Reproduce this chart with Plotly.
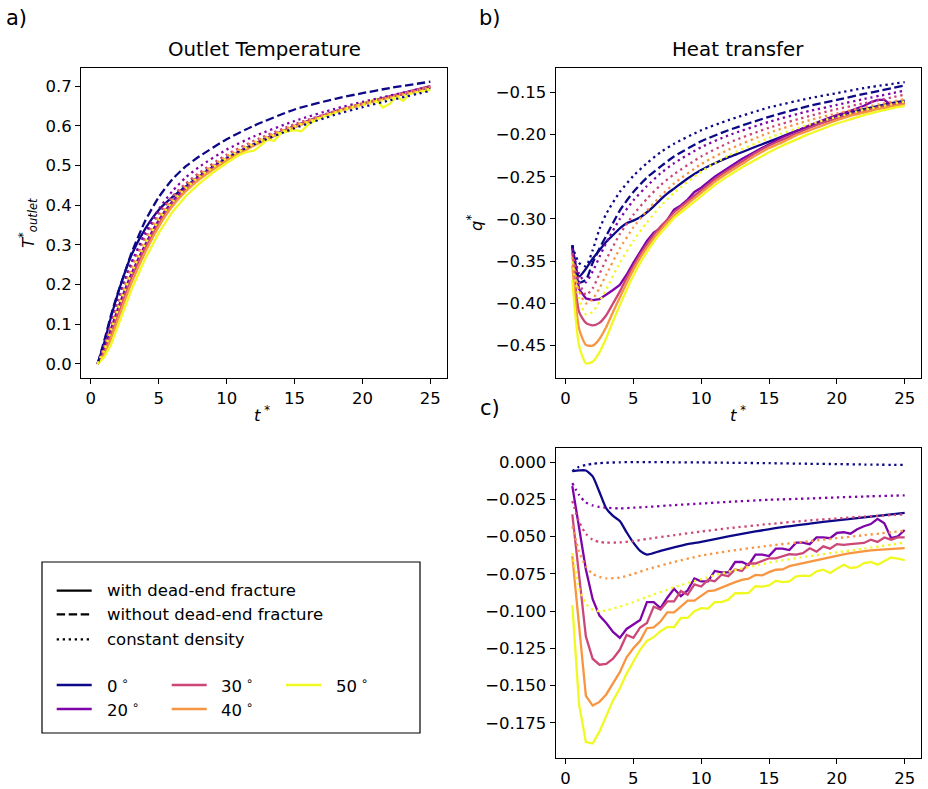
import plotly.graph_objects as go

W, H = 928, 789
FONT = "DejaVu Sans"
COL = {0: "#0d0887", 20: "#7e03a8", 30: "#cc4778", 40: "#f89540", 50: "#f0f921"}
LW = 2.3
DASH = "8.4px,3.6px"
DOT = "2.3px,3.7px"

# ---------------- panel a: outlet temperature ----------------
ta = [0.5, 1, 1.5, 2, 2.5, 3, 4, 5, 6, 7, 8, 10, 12, 15, 18, 20, 22, 25]
a_dash0 = [0.0, 0.06, 0.125, 0.18, 0.23, 0.28, 0.36, 0.42, 0.465, 0.498, 0.523, 0.566, 0.6, 0.641, 0.668, 0.682, 0.695, 0.711]
a_s0 = [0.0, 0.055, 0.12, 0.178, 0.23, 0.275, 0.34, 0.388, 0.42, 0.447, 0.472, 0.515, 0.553, 0.598, 0.635, 0.655, 0.672, 0.695]
a_s20 = [0.0, 0.04, 0.09, 0.14, 0.186, 0.228, 0.3, 0.362, 0.409, 0.444, 0.473, 0.518, 0.554, 0.599, 0.636, 0.656, 0.674, 0.7]
a_s30 = [0.0, 0.032, 0.077, 0.127, 0.174, 0.218, 0.292, 0.354, 0.403, 0.44, 0.469, 0.515, 0.552, 0.598, 0.635, 0.655, 0.673, 0.699]
a_s40 = [0.0, 0.025, 0.065, 0.113, 0.16, 0.205, 0.281, 0.346, 0.397, 0.435, 0.465, 0.512, 0.55, 0.596, 0.634, 0.654, 0.672, 0.698]
a_d0 = [0.0, 0.05, 0.105, 0.16, 0.21, 0.255, 0.325, 0.38, 0.42, 0.452, 0.478, 0.52, 0.553, 0.594, 0.628, 0.647, 0.664, 0.688]
a_d20 = [0.0, 0.05, 0.105, 0.16, 0.21, 0.255, 0.33, 0.39, 0.435, 0.47, 0.497, 0.54, 0.573, 0.612, 0.643, 0.66, 0.676, 0.698]
a_d30 = [0.0, 0.045, 0.1, 0.152, 0.2, 0.245, 0.318, 0.378, 0.422, 0.455, 0.482, 0.527, 0.562, 0.604, 0.637, 0.656, 0.672, 0.697]
a_d40 = [0.0, 0.04, 0.092, 0.145, 0.193, 0.238, 0.31, 0.37, 0.415, 0.449, 0.477, 0.523, 0.559, 0.601, 0.635, 0.654, 0.671, 0.696]
a_d50 = [0.0, 0.035, 0.085, 0.137, 0.185, 0.23, 0.302, 0.362, 0.408, 0.443, 0.472, 0.518, 0.555, 0.598, 0.632, 0.651, 0.668, 0.693]
ta_s50 = [0.5, 1, 1.5, 2, 2.5, 3, 4, 5, 6, 7, 8, 9, 10, 11, 11.5, 12, 12.5, 13, 13.5, 14, 15, 15.5, 16, 17, 18, 19, 20, 21, 21.5, 22, 22.5, 23, 23.5, 24, 25]
a_s50 = [0.0, 0.018, 0.05, 0.095, 0.142, 0.188, 0.265, 0.33, 0.383, 0.423, 0.455, 0.482, 0.506, 0.528, 0.534, 0.537, 0.55, 0.565, 0.562, 0.582, 0.589, 0.586, 0.603, 0.622, 0.634, 0.647, 0.657, 0.666, 0.646, 0.655, 0.673, 0.663, 0.681, 0.685, 0.69]

# ---------------- panel b: heat transfer ----------------
tb = [0.5, 1, 1.5, 2, 2.5, 3, 4, 5, 6, 7, 8, 10, 12, 15, 18, 20, 22, 25]
b_dash0 = [-0.331, -0.375, -0.372, -0.352, -0.335, -0.32, -0.29, -0.268, -0.251, -0.238, -0.226, -0.208, -0.195, -0.179, -0.166, -0.159, -0.152, -0.142]
b_d0 = [-0.332, -0.352, -0.356, -0.337, -0.312, -0.294, -0.268, -0.249, -0.234, -0.221, -0.211, -0.195, -0.183, -0.168, -0.157, -0.151, -0.145, -0.138]
b_d20 = [-0.335, -0.365, -0.375, -0.362, -0.345, -0.328, -0.3, -0.278, -0.261, -0.246, -0.234, -0.215, -0.201, -0.185, -0.172, -0.165, -0.158, -0.148]
b_d30 = [-0.34, -0.375, -0.39, -0.382, -0.365, -0.348, -0.318, -0.295, -0.276, -0.26, -0.247, -0.226, -0.21, -0.192, -0.178, -0.17, -0.163, -0.153]
b_d40 = [-0.345, -0.385, -0.4, -0.395, -0.382, -0.366, -0.335, -0.31, -0.29, -0.273, -0.258, -0.235, -0.218, -0.198, -0.183, -0.175, -0.168, -0.158]
b_d50 = [-0.35, -0.395, -0.413, -0.41, -0.398, -0.383, -0.352, -0.326, -0.304, -0.285, -0.269, -0.244, -0.225, -0.204, -0.188, -0.179, -0.171, -0.161]
tbs = [0.5, 1, 1.5, 2, 2.5, 3, 3.5, 4, 4.5, 5, 5.5, 6, 6.5, 7, 7.5, 8, 9, 10, 11, 12, 13, 14, 15, 16, 17, 18, 19, 20, 21, 22, 23, 24, 25]
b_s0 = [-0.331, -0.368, -0.359, -0.347, -0.337, -0.327, -0.319, -0.311, -0.305, -0.302, -0.298, -0.292, -0.285, -0.277, -0.27, -0.264, -0.252, -0.242, -0.234, -0.227, -0.221, -0.2145, -0.2085, -0.202, -0.196, -0.19, -0.1835, -0.178, -0.174, -0.17, -0.1665, -0.163, -0.16]
b_s30 = [-0.338, -0.41, -0.423, -0.426, -0.423, -0.414, -0.4, -0.386, -0.37, -0.356, -0.342, -0.33, -0.319, -0.309, -0.301, -0.292, -0.279, -0.266, -0.253, -0.242, -0.232, -0.222, -0.213, -0.206, -0.199, -0.192, -0.186, -0.181, -0.176, -0.172, -0.168, -0.165, -0.163]
b_s40 = [-0.355, -0.43, -0.449, -0.45, -0.442, -0.428, -0.41, -0.393, -0.376, -0.36, -0.346, -0.334, -0.323, -0.313, -0.304, -0.296, -0.282, -0.269, -0.256, -0.245, -0.235, -0.225, -0.216, -0.209, -0.201, -0.195, -0.189, -0.183, -0.178, -0.174, -0.17, -0.167, -0.164]
b_s50 = [-0.372, -0.45, -0.471, -0.469, -0.458, -0.441, -0.421, -0.402, -0.384, -0.367, -0.352, -0.339, -0.327, -0.317, -0.308, -0.299, -0.286, -0.273, -0.26, -0.249, -0.239, -0.23, -0.221, -0.213, -0.206, -0.199, -0.193, -0.187, -0.182, -0.177, -0.173, -0.169, -0.166]
tb_s20 = [0.5, 1, 1.5, 2, 2.5, 3, 3.5, 4, 4.5, 5, 5.5, 6, 6.5, 7, 7.5, 8, 8.5, 9, 9.5, 10, 11, 12, 13, 14, 15, 16, 17, 18, 19, 20, 21, 22, 22.5, 23, 23.5, 24, 24.5, 25]
b_s20 = [-0.333, -0.383, -0.394, -0.396, -0.395, -0.39, -0.384, -0.378, -0.366, -0.352, -0.339, -0.326, -0.316, -0.311, -0.301, -0.289, -0.284, -0.277, -0.268, -0.263, -0.25, -0.239, -0.229, -0.22, -0.211, -0.203, -0.196, -0.189, -0.183, -0.177, -0.172, -0.166, -0.162, -0.159, -0.159, -0.165, -0.164, -0.162]

# ---------------- panel c ----------------
tcd = [0.5, 1, 1.5, 2, 2.5, 3, 4, 5, 6, 8, 10, 12, 15, 18, 20, 22, 25]
c_d0 = [-0.006, -0.003, -0.0018, -0.001, -0.0006, -0.0003, 0.0, 0.0001, 0.0001, 0.0, -0.0001, -0.0003, -0.0006, -0.001, -0.0012, -0.0015, -0.0018]
c_d20 = [-0.014, -0.022, -0.027, -0.029, -0.030, -0.0305, -0.031, -0.0305, -0.030, -0.0288, -0.0277, -0.0266, -0.0252, -0.0243, -0.0236, -0.023, -0.0222]
c_d30 = [-0.026, -0.04, -0.048, -0.052, -0.0535, -0.054, -0.0538, -0.053, -0.0515, -0.049, -0.0465, -0.0443, -0.0415, -0.039, -0.0378, -0.0365, -0.035]
c_d40 = [-0.043, -0.06, -0.07, -0.075, -0.077, -0.078, -0.0775, -0.075, -0.072, -0.067, -0.0627, -0.0597, -0.056, -0.053, -0.051, -0.049, -0.046]
c_d50 = [-0.061, -0.085, -0.095, -0.099, -0.1, -0.0995, -0.097, -0.094, -0.0905, -0.084, -0.0785, -0.0735, -0.0675, -0.063, -0.0605, -0.058, -0.054]
tcs0 = [0.5, 1, 1.5, 2, 2.5, 3, 3.5, 4, 4.5, 5, 5.5, 6, 7, 8, 9, 10, 12, 14, 16, 18, 20, 22, 25]
c_s0 = [-0.006, -0.0055, -0.0055, -0.0095, -0.02, -0.031, -0.036, -0.0395, -0.047, -0.054, -0.0595, -0.062, -0.0595, -0.0572, -0.055, -0.0535, -0.0498, -0.0465, -0.0435, -0.0412, -0.039, -0.037, -0.034]
tc = [0.5, 1.0, 1.5, 2.0, 2.5, 3.0, 3.5, 4.0, 4.5, 5.0, 5.5, 6.0, 6.5, 7.0, 7.5, 8.0, 8.5, 9.0, 9.5, 10.0,
      10.5, 11.0, 11.5, 12.0, 12.5, 13.0, 13.5, 14.0, 14.5, 15.0, 15.5, 16.0, 16.5, 17.0, 17.5, 18.0, 18.5, 19.0, 19.5, 20.0,
      20.5, 21.0, 21.5, 22.0, 22.5, 23.0, 23.5, 24.0, 24.5, 25.0]
c_s20 = [-0.016, -0.045, -0.072, -0.092, -0.103, -0.108, -0.114, -0.118, -0.112, -0.109,
         -0.106, -0.094, -0.094, -0.098, -0.091, -0.085, -0.09, -0.086, -0.078, -0.08,
         -0.08, -0.073, -0.074, -0.074, -0.067, -0.067, -0.069, -0.062, -0.062, -0.063,
         -0.058, -0.058, -0.059, -0.054, -0.054, -0.055, -0.0505, -0.0505, -0.051, -0.0475,
         -0.047, -0.048, -0.045, -0.043, -0.0415, -0.038, -0.041, -0.051, -0.0497, -0.0455]
c_s30 = [-0.035, -0.078, -0.117, -0.132, -0.136, -0.1355, -0.132, -0.126, -0.116, -0.118,
         -0.111, -0.108, -0.097, -0.099, -0.0935, -0.0935, -0.0865, -0.089, -0.082, -0.0835,
         -0.079, -0.08, -0.0755, -0.0765, -0.072, -0.073, -0.068, -0.068, -0.0665, -0.0645,
         -0.0645, -0.063, -0.0618, -0.062, -0.061, -0.0578, -0.06, -0.0565, -0.058, -0.055,
         -0.0555, -0.055, -0.0548, -0.0542, -0.052, -0.0535, -0.0505, -0.052, -0.0505, -0.0505]
c_s40 = [-0.063, -0.112, -0.157, -0.1635, -0.161, -0.156, -0.148, -0.141, -0.131, -0.125,
         -0.12, -0.1115, -0.111, -0.107, -0.1008, -0.1008, -0.097, -0.093, -0.093, -0.0895,
         -0.0865, -0.086, -0.084, -0.082, -0.0805, -0.079, -0.0782, -0.0757, -0.076, -0.0738,
         -0.0722, -0.072, -0.0698, -0.0688, -0.0678, -0.0666, -0.0655, -0.0643, -0.0635, -0.0625,
         -0.0618, -0.061, -0.0603, -0.0596, -0.0592, -0.0589, -0.0587, -0.0583, -0.058, -0.0577]
c_s50 = [-0.096, -0.163, -0.188, -0.189, -0.181, -0.171, -0.16, -0.152, -0.142, -0.134,
         -0.126, -0.12, -0.1175, -0.1135, -0.1107, -0.1107, -0.1046, -0.1046, -0.1, -0.098,
         -0.0983, -0.094, -0.094, -0.0923, -0.088, -0.088, -0.0877, -0.0833, -0.0835, -0.0828,
         -0.0796, -0.0805, -0.08, -0.0766, -0.0762, -0.0765, -0.0733, -0.0722, -0.0744, -0.0715,
         -0.0688, -0.071, -0.0705, -0.0677, -0.067, -0.0688, -0.0665, -0.064, -0.0648, -0.0657]

ANGLES = [0, 20, 30, 40, 50]
ANGLE_LABELS = ["0", "20", "30", "40", "50"]
LEGEND_STYLES = ["with dead-end fracture", "without dead-end fracture", "constant density"]

fig = go.Figure()


def add(x, y, color, dash, xa, ya, smooth=False):
    fig.add_trace(go.Scatter(
        x=x, y=y, mode="lines", xaxis=xa, yaxis=ya, showlegend=False, hoverinfo="skip",
        line=dict(color=color, width=LW, dash=dash, shape="spline" if smooth else "linear",
                  smoothing=0.6 if smooth else None)))


# panel a
for ang, ys in zip([0, 20, 30, 40], [a_s0, a_s20, a_s30, a_s40]):
    add(ta, ys, COL[ang], "solid", "x", "y", True)
add(ta_s50, a_s50, COL[50], "solid", "x", "y")
add(ta, a_dash0, COL[0], DASH, "x", "y", True)
for ang, ys in zip(ANGLES, [a_d0, a_d20, a_d30, a_d40, a_d50]):
    add(ta, ys, COL[ang], DOT, "x", "y", True)

# panel b
add(tbs, b_s0, COL[0], "solid", "x2", "y2", True)
add(tb_s20, b_s20, COL[20], "solid", "x2", "y2")
for ang, ys in zip([30, 40, 50], [b_s30, b_s40, b_s50]):
    add(tbs, ys, COL[ang], "solid", "x2", "y2", True)
add(tb, b_dash0, COL[0], DASH, "x2", "y2", True)
for ang, ys in zip(ANGLES, [b_d0, b_d20, b_d30, b_d40, b_d50]):
    add(tb, ys, COL[ang], DOT, "x2", "y2", True)

# panel c
add(tcs0, c_s0, COL[0], "solid", "x3", "y3", True)
for ang, ys in zip([20, 30, 40, 50], [c_s20, c_s30, c_s40, c_s50]):
    add(tc, ys, COL[ang], "solid", "x3", "y3")
for ang, ys in zip(ANGLES, [c_d0, c_d20, c_d30, c_d40, c_d50]):
    add(tcd, ys, COL[ang], DOT, "x3", "y3", True)


def px(v):
    return v / W


def py(v):
    return 1 - v / H


common = dict(showline=True, mirror=True, linecolor="#000000", linewidth=1.1, ticks="outside",
              ticklen=5, tickwidth=1.1, tickcolor="#000000", showgrid=False, zeroline=False,
              tickfont=dict(family=FONT, size=16.5, color="#000000"))
xr = [-0.725, 26.225]
xcommon = dict(common, range=xr, tickmode="array", tickvals=[0, 5, 10, 15, 20, 25])

fig.update_layout(
    width=W, height=H, margin=dict(l=0, r=0, t=0, b=0),
    paper_bgcolor="white", plot_bgcolor="white", showlegend=False,
    font=dict(family=FONT, color="#000000"),
    xaxis=dict(xcommon, domain=[px(81), px(447)], anchor="y"),
    yaxis=dict(common, domain=[py(378), py(68)], anchor="x", range=[-0.0355, 0.7455],
               tickmode="array", tickvals=[0, 0.1, 0.2, 0.3, 0.4, 0.5, 0.6, 0.7], tickformat=".1f"),
    xaxis2=dict(xcommon, domain=[px(555.7), px(921.3)], anchor="y2"),
    yaxis2=dict(common, domain=[py(377.7), py(67.7)], anchor="x2", range=[-0.4879, -0.1209],
                tickmode="array", tickvals=[-0.45, -0.40, -0.35, -0.30, -0.25, -0.20, -0.15], tickformat=".2f"),
    xaxis3=dict(xcommon, domain=[px(555.7), px(921.3)], anchor="y3"),
    yaxis3=dict(common, domain=[py(757.7), py(448.3)], anchor="x3", range=[-0.1985, 0.0094],
                tickmode="array", tickvals=[-0.175, -0.15, -0.125, -0.1, -0.075, -0.05, -0.025, 0.0], tickformat=".3f"),
)

ann = []


def text(x, y, s, size=16.5, xanchor="center", yanchor="middle", angle=0):
    ann.append(dict(x=px(x), y=py(y), xref="paper", yref="paper", text=s, showarrow=False,
                    xanchor=xanchor, yanchor=yanchor, textangle=angle,
                    font=dict(family=FONT, size=size, color="#000000")))


text(264, 50, "Outlet Temperature", size=19.8)
text(738, 50, "Heat transfer", size=19.8)
text(16, 18, "a)", size=21)
text(490, 18, "b)", size=21)
text(490, 408, "c)", size=21)
text(262, 414, "<i>t</i><sup> *</sup>")
text(738, 414, "<i>t</i><sup> *</sup>")
text(28, 223, "<i>T</i><sup>*</sup><sub><i>outlet</i></sub>", angle=-90)
text(475, 223, "<i>q</i><sup>*</sup>", angle=-90)

shapes = [dict(type="rect", xref="paper", yref="paper", x0=px(42), x1=px(420), y0=py(733), y1=py(562),
               line=dict(color="#000000", width=1.2), fillcolor="white", layer="above")]
for label, dash, yy in zip(LEGEND_STYLES, ["solid", DASH, DOT], [590.7, 614.3, 639.3]):
    shapes.append(dict(type="line", xref="paper", yref="paper", x0=px(56.7), x1=px(91.7), y0=py(yy), y1=py(yy),
                       line=dict(color="#000000", width=LW, dash=dash), layer="above"))
    text(105, yy, label, xanchor="left")
cols = [(56.7, 105), (171.7, 219.3), (286, 334)]
rows = [685, 709]
for i, (ang, lab) in enumerate(zip(ANGLES, ANGLE_LABELS)):
    order = [(0, 0), (0, 1), (1, 0), (1, 1), (2, 0)][i]
    lx, tx = cols[order[0]]
    yy = rows[order[1]]
    shapes.append(dict(type="line", xref="paper", yref="paper", x0=px(lx), x1=px(lx + 35), y0=py(yy), y1=py(yy),
                       line=dict(color=COL[ang], width=LW), layer="above"))
    text(tx, yy, lab + "<sup> ∘</sup>", xanchor="left")

fig.update_layout(annotations=ann, shapes=shapes)
fig.write_html("out.html")
